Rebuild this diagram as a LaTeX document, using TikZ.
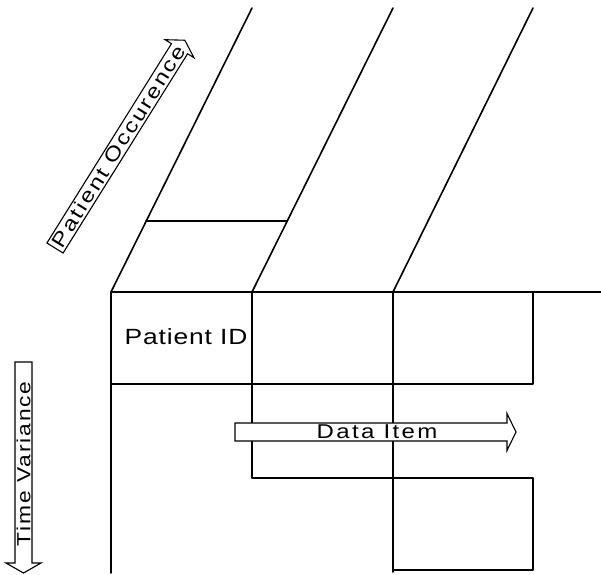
\documentclass[tikz,border=0pt]{standalone}
\usepackage{fontspec}
\setmainfont{Liberation Sans}
\newfontfamily\lblfont[LetterSpace=12,FakeStretch=1.2]{Liberation Sans}
\newfontfamily\tvfont[LetterSpace=10,FakeStretch=1.2]{Liberation Sans}
\newfontfamily\idfont[LetterSpace=4,FakeStretch=1.2]{Liberation Sans}
\tikzset{
  frame/.style={line width=1.6pt, line cap=round, line join=round},
  arrowbox/.style={draw, fill=white, line width=1.1pt, line join=miter},
  lbl/.style={font=\lblfont\fontsize{20}{23}\selectfont, inner sep=0pt},
}
\begin{document}
\begin{tikzpicture}[x=1pt,y=-1pt]
\useasboundingbox (0,0) rectangle (601,574);
% corner coordinates
\coordinate (a1) at (111,292);
\coordinate (a2) at (252,292);
\coordinate (a3) at (393,292);
\coordinate (a4) at (533,292);
\coordinate (aR) at (601,292);
\coordinate (t1) at (252,8);
\coordinate (t2) at (393,8);
\coordinate (t3) at (533,8);
\coordinate (m1) at (146,221);
\coordinate (m2) at (287,221);
\coordinate (b1) at (111,384);
\coordinate (b4) at (533,384);
\coordinate (c2) at (252,478);
\coordinate (c4) at (533,478);
\coordinate (d1) at (111,573);
\coordinate (d3) at (393,572);
\coordinate (e3) at (393,570);
\coordinate (e4) at (533,570);
% frame lines
\draw[frame] (a1) -- (aR);
\draw[frame] (a1) -- (d1);
\draw[frame] (a1) -- (t1);
\draw[frame] (a2) -- (t2);
\draw[frame] (a3) -- (t3);
\draw[frame] (m1) -- (m2);
\draw[frame] (a2) -- (c2) -- (c4) -- (e4) -- (e3);
\draw[frame] (b1) -- (b4) -- (a4);
\draw[frame] (a3) -- (d3);
% Patient ID
\node[font=\idfont\fontsize{22}{26}\selectfont, inner sep=0pt] (pid) at (186,337) {Patient ID};
% Data Item arrow
\begin{scope}[shift={(235,432)}]
  \draw[arrowbox] (0,-9) -- (272,-9) -- (272,-18.5) -- (281,0) -- (272,18.5) -- (272,9) -- (0,9) -- cycle;
  \node[lbl] (di) at (142,0) {Data Item};
\end{scope}
% Time Variance arrow
\begin{scope}[shift={(23.5,362)}]
  \draw[arrowbox] (-8.5,0) -- (-8.5,201) -- (-17.5,201) -- (0,211) -- (17.5,201) -- (8.5,201) -- (8.5,0) -- cycle;
  \node[lbl, font=\tvfont\fontsize{19}{22}\selectfont, rotate=90] (tv) at (0,102) {Time Variance};
\end{scope}
% Patient Occurence arrow
\begin{scope}[shift={(55,248)}, rotate=58]
  \draw[arrowbox] (0,-9.5) -- (235,-9.5) -- (235,-17) -- (245,0) -- (235,17) -- (235,9.5) -- (0,9.5) -- cycle;
  \node[lbl, rotate=58] (po) at (120,0) {Patient Occurence};
\end{scope}
\end{tikzpicture}
\end{document}
